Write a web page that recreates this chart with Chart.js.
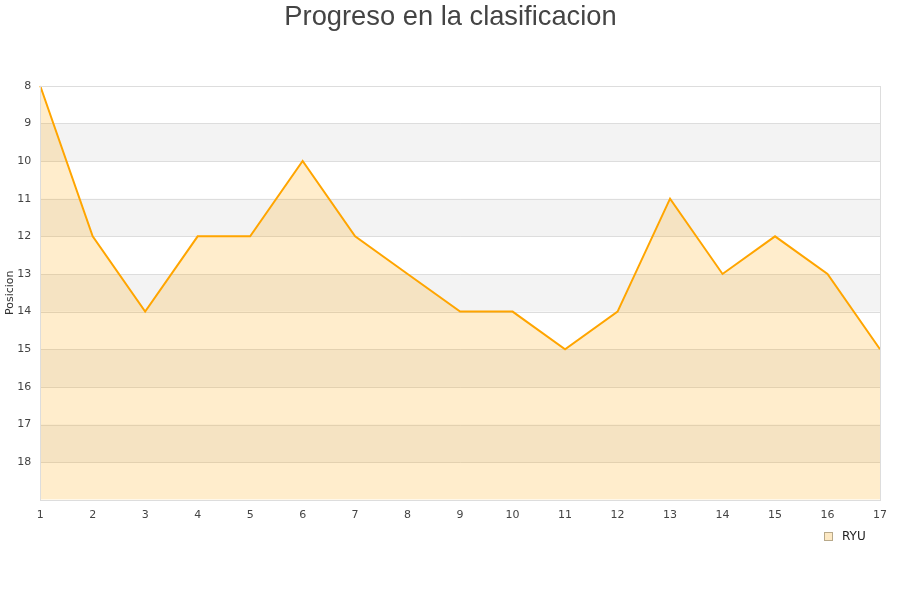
<!DOCTYPE html>
<html>
<head>
<meta charset="utf-8">
<script src="https://cdn.jsdelivr.net/npm/chart.js@4"></script>
<style>
html,body{margin:0;padding:0;background:#fff;}
#wrap{width:900px;height:600px;}
</style>
</head>
<body>
<div id="wrap"><canvas id="c" width="900" height="600"></canvas></div>
<script>
const categories = ['1','2','3','4','5','6','7','8','9','10','11','12','13','14','15','16','17'];
const seriesName = 'RYU';
const positions = [8,12,14,12,12,10,12,13,14,14,15,14,11,13,12,13,15];
const yTicks = [8,9,10,11,12,13,14,15,16,17,18];

const bandPlugin = {
  id: 'bands',
  beforeDatasetsDraw(chart) {
    const {ctx, chartArea:a, scales:{y}} = chart;
    ctx.save();
    ctx.fillStyle = '#f3f3f3';
    for (let v = 9; v < 19; v += 2) {
      const t = y.getPixelForValue(v), b = y.getPixelForValue(v+1);
      ctx.fillRect(a.left, t, a.right - a.left, b - t);
    }
    ctx.strokeStyle = '#dddddd';
    ctx.lineWidth = 1;
    for (const v of yTicks) {
      const p = Math.round(y.getPixelForValue(v)) + 0.5;
      ctx.beginPath(); ctx.moveTo(a.left, p); ctx.lineTo(a.right, p); ctx.stroke();
    }
    ctx.restore();
  },
  afterDatasetsDraw(chart) {
    const {ctx, chartArea:a} = chart;
    ctx.save();
    ctx.strokeStyle = '#dddddd';
    ctx.lineWidth = 1;
    ctx.strokeRect(Math.round(a.left)+0.5, Math.round(a.top)+0.5, Math.round(a.right-a.left), Math.round(a.bottom-a.top));
    ctx.restore();
  },
  afterDraw(chart) {
    const {ctx, chartArea:a} = chart;
    const ds = chart.data.datasets[0];
    ctx.save();
    const bx = Math.round(a.right) - 56 + 0.5, by = Math.round(a.bottom) + 32 + 0.5;
    ctx.fillStyle = '#fde9c4';
    ctx.strokeStyle = '#b8a98a';
    ctx.lineWidth = 1;
    ctx.fillRect(bx, by, 8, 8);
    ctx.strokeRect(bx, by, 8, 8);
    ctx.fillStyle = '#222222';
    ctx.font = '12px "DejaVu Sans", sans-serif';
    ctx.textBaseline = 'middle';
    ctx.textAlign = 'left';
    ctx.fillText(ds.label, Math.round(a.right) - 38, Math.round(a.bottom) + 36.5);
    ctx.restore();
  }
};

new Chart(document.getElementById('c'), {
  type: 'line',
  data: {
    labels: categories,
    datasets: [{
      label: seriesName,
      data: positions,
      borderColor: '#ffa500',
      backgroundColor: 'rgba(255,165,0,0.2)',
      borderWidth: 2,
      pointRadius: 0,
      tension: 0,
      fill: 'start'
    }]
  },
  options: {
    responsive: false,
    animation: false,
    layout: { padding: { left: 1, right: 0, top: 0, bottom: 69 } },
    plugins: {
      title: {
        display: true,
        text: 'Progreso en la clasificacion',
        color: '#444444',
        font: { family: 'Liberation Sans, Arial, sans-serif', size: 27.3, weight: 'normal' },
        padding: { top: 1, bottom: 52 }
      },
      legend: { display: false },
      tooltip: { enabled: false }
    },
    scales: {
      x: {
        offset: false,
        grid: { display: false, drawTicks: false },
        border: { display: false },
        ticks: { color: '#444444', font: { family: 'DejaVu Sans, sans-serif', size: 11 }, maxRotation: 0, autoSkip: false, padding: 9 }
      },
      y: {
        reverse: true,
        min: 8,
        max: 19,
        grid: { display: false, drawTicks: false },
        border: { display: false },
        afterBuildTicks(scale) { scale.ticks = yTicks.map(v => ({ value: v })); },
        ticks: { color: '#444444', font: { family: 'DejaVu Sans, sans-serif', size: 11 }, padding: 9 },
        title: { display: true, text: 'Posicion', color: '#333333', font: { family: 'DejaVu Sans, sans-serif', size: 11 }, padding: { top: 3, bottom: -9 } }
      },
      yRight: {
        type: 'linear',
        position: 'right',
        display: true,
        min: 8,
        max: 19,
        grid: { display: false, drawTicks: false },
        border: { display: false },
        ticks: { display: false },
        afterFit(scale) { scale.width = 20; }
      }
    }
  },
  plugins: [bandPlugin]
});
</script>
</body>
</html>
